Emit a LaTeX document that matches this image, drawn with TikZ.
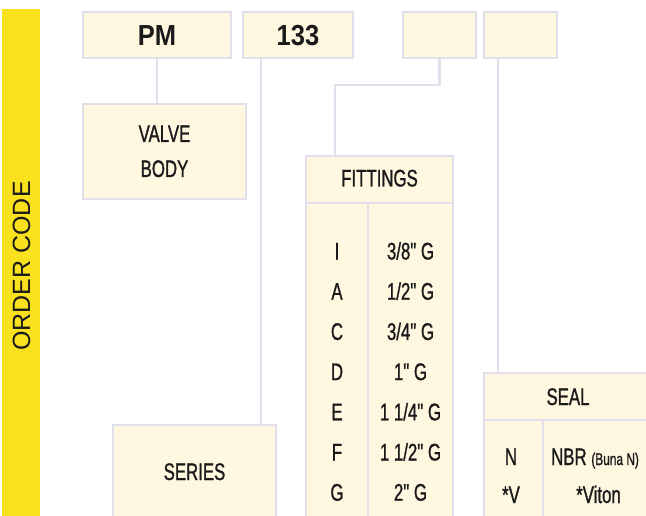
\documentclass[tikz,border=0pt]{standalone}
\usepackage{fontspec}
\setmainfont{Liberation Sans}[FakeStretch=0.7, FakeBold=1, Ligatures=TeXOff]
\newfontfamily\codefont{Liberation Sans Bold}[FakeStretch=0.88]
\newfontfamily\barfont{Liberation Sans}
\definecolor{bar}{HTML}{F9E11E}
\definecolor{cream}{HTML}{FFF7E0}
\definecolor{rim}{HTML}{E1DFEB}
\definecolor{ink}{HTML}{1A1A1A}

\begin{document}
\begin{tikzpicture}[x=1pt,y=-1pt]
  \tikzstyle{every node}+=[inner sep=0pt, text=ink]
  \tikzstyle{box}=[draw=rim, fill=cream, line width=2.3pt]
  \tikzstyle{wire}=[draw=rim, line width=2.4pt]
  \tikzstyle{rule}=[draw=rim, line width=2pt]
  \tikzstyle{txt}=[anchor=base, font=\fontsize{24}{35}\selectfont]
  \useasboundingbox (0,0) rectangle (646,516);
  % side bar
  \fill [bar] (2,9) rectangle (40,520);
  \node [rotate=90, font=\barfont\fontsize{25}{25}\selectfont] (order) at (21.5,266) {ORDER CODE};
  % code boxes
  \node [box, minimum width=148, minimum height=46] (pm) at (157,35) {};
  \node [txt, font=\codefont\fontsize{29}{29}\selectfont] at (157,45.5) {PM};
  \node [box, minimum width=110, minimum height=46] (num) at (298,35) {};
  \node [txt, font=\codefont\fontsize{29}{29}\selectfont] at (298,45.5) {133};
  \node [box, minimum width=73, minimum height=46] (fitcode) at (439.5,35) {};
  \node [box, minimum width=73, minimum height=46] (sealcode) at (520.5,35) {};
  % option boxes
  \node [box, minimum width=163, minimum height=95] (valve) at (164.5,151.5) {};
  \node [txt] (valve1) at (164.5,142) {VALVE};
  \node [txt] (valve2) at (164.5,177) {BODY};
  \node [box, minimum width=163, minimum height=95] (series) at (194.5,472.5) {};
  \node [txt] at (194.5,480) {SERIES};
  \node [box, minimum width=147, minimum height=364] (fit) at (379.5,338) {};
  \node [box, minimum width=168, minimum height=147] (seal) at (568,446.5) {};
  % table rules
  \coordinate (fitrow) at (379.5,203);
  \coordinate (fitcol) at (368,203);
  \coordinate (sealrow) at (568,420);
  \coordinate (sealcol) at (543,420);
  \draw [rule] (fit.west |- fitrow) -- (fit.east |- fitrow);
  \draw [rule] (fitcol) -- (fitcol |- fit.south);
  \draw [rule] (seal.west |- sealrow) -- (seal.east |- sealrow);
  \draw [rule] (sealcol) -- (sealcol |- seal.south);
  % connectors
  \coordinate (numout) at (261,58);
  \coordinate (sealout) at (498,58);
  \coordinate (fitin) at (335,156);
  \draw [wire] (pm.south) -- (pm.south |- valve.north);
  \draw [wire] (numout) -- (numout |- series.north);
  \draw [wire] (fitcode.south) -- ++(0,26) -| (fitin);
  \draw [wire] (sealout) -- (sealout |- seal.north);
  % fittings
  \node [txt] (fithead) at (379.5,186.5) {FITTINGS};
  \node [txt] (fI) at (337,259.5) {I};
  \node [txt] (sI) at (410.5,259.5) {3/8" G};
  \node [txt] (fA) at (337,299.7) {A};
  \node [txt] (sA) at (410.5,299.7) {1/2" G};
  \node [txt] (fC) at (337,339.9) {C};
  \node [txt] (sC) at (410.5,339.9) {3/4" G};
  \node [txt] (fD) at (337,380.1) {D};
  \node [txt] (sD) at (410.5,380.1) {1" G};
  \node [txt] (fE) at (337,420.3) {E};
  \node [txt] (sE) at (410.5,420.3) {1 1/4" G};
  \node [txt] (fF) at (337,460.5) {F};
  \node [txt] (sF) at (410.5,460.5) {1 1/2" G};
  \node [txt] (fG) at (337,500.7) {G};
  \node [txt] (sG) at (410.5,500.7) {2" G};
  % seal
  \node [txt] (sealhead) at (568,405) {SEAL};
  \node [txt] (sN) at (511,465) {N};
  \node [txt, anchor=base west] (mN) at (551,465) {NBR {\fontsize{17}{17}\selectfont (Buna N)}};
  \node [txt] (sV) at (511,503) {*V};
  \node [txt] (mV) at (598.5,503) {*Viton};
\end{tikzpicture}
\end{document}
